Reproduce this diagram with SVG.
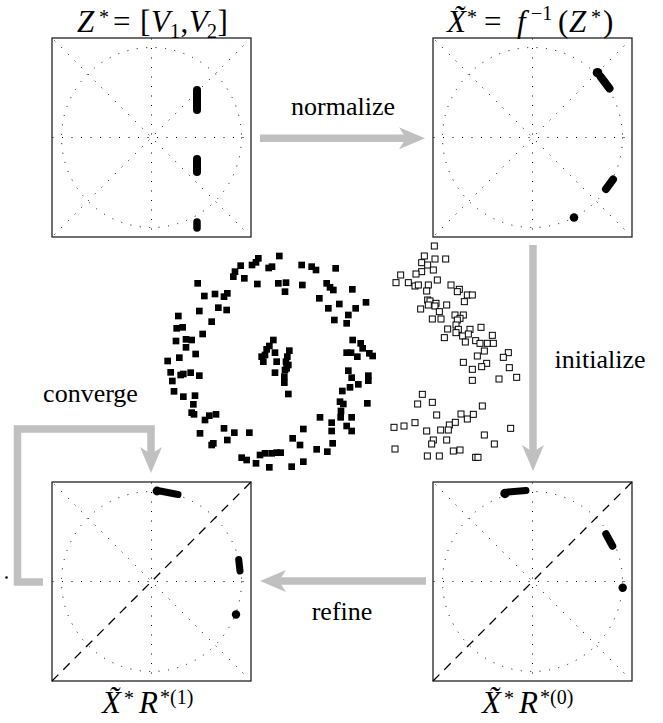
<svg xmlns="http://www.w3.org/2000/svg" width="663" height="723" viewBox="0 0 663 723">
<style>
.dot{fill:none;stroke:#000;stroke-width:1;stroke-dasharray:1 8.5;}
.box{fill:none;stroke:#222;stroke-width:1.3;}
.dash{fill:none;stroke:#000;stroke-width:1.3;stroke-dasharray:9 7;}
.blob{stroke:#000;stroke-linecap:round;fill:none;}
.arr{fill:none;stroke:#c0c0c0;stroke-width:7.5;}
.head{fill:#c0c0c0;}
text{font-family:'Liberation Serif','DejaVu Serif',serif;fill:#000;}
.lbl{font-size:26px;}
.math{font-size:31px;}
.it{font-style:italic;}
.sup{font-size:20px;}
</style>
<defs>
<g id="grid">
<circle r="90" class="dot"/>
<line x1="-99" y1="0" x2="99" y2="0" class="dot"/>
<line x1="0" y1="-99" x2="0" y2="99" class="dot"/>
<line x1="-97" y1="-97" x2="97" y2="97" class="dot"/>
<rect x="-99.5" y="-99.5" width="199" height="199" class="box"/>
</g>
<line id="anti" x1="-97" y1="97" x2="97" y2="-97" class="dot"/>
<path id="ah" d="M0,0 L-26,-11 L-19,0 L-26,11 Z" class="head"/>
<rect id="bs" x="-10" y="-10" width="20" height="20" fill="#000"/>
<rect id="hs" x="-9" y="-9" width="18" height="18" fill="#fff" stroke="#000" stroke-width="3"/>
</defs>

<g id="connectors">
<line class="arr" x1="260" y1="138.3" x2="407" y2="138.3"/>
<use href="#ah" transform="translate(425,138.3)"/>
<line class="arr" x1="533" y1="245" x2="533" y2="453"/>
<use href="#ah" transform="translate(533,471) rotate(90)"/>
<line class="arr" x1="426" y1="581" x2="278" y2="581"/>
<use href="#ah" transform="translate(260,581) rotate(180)"/>
<polyline class="arr" points="43,582 17.5,582 17.5,429 151,429 151,455"/>
<use href="#ah" transform="translate(151,473) rotate(90)"/>
<circle cx="6.5" cy="577.5" r="1.3" fill="#000"/>
</g>

<g id="labels">
<text class="lbl" x="343" y="115" text-anchor="middle">normalize</text>
<text class="lbl" x="600" y="368" text-anchor="middle">initialize</text>
<text class="lbl" x="342" y="620" text-anchor="middle">refine</text>
<text class="lbl" x="90.5" y="402" text-anchor="middle">converge</text>
</g>

<g id="panel-z">
<use href="#grid" transform="translate(151.5,137.5)"/>
<use href="#anti" transform="translate(151.5,137.5)"/>
<line class="blob" stroke-width="8" x1="197" y1="90" x2="197" y2="110"/>
<line class="blob" stroke-width="8" x1="197" y1="159" x2="197" y2="172"/>
<line class="blob" stroke-width="7.5" x1="197" y1="222" x2="197" y2="228"/>
<text class="math" y="32"><tspan class="it" x="77">Z</tspan><tspan class="sup" x="99" dy="-8">*</tspan><tspan x="113" dy="8">=</tspan><tspan x="140">[</tspan><tspan class="it" x="151">V</tspan><tspan class="sup" x="170" dy="6">1</tspan><tspan x="180.5" dy="-6">,</tspan><tspan class="it" x="189">V</tspan><tspan class="sup" x="207" dy="6">2</tspan><tspan x="217.5" dy="-6">]</tspan></text>
</g>

<g id="panel-x">
<use href="#grid" transform="translate(532.5,137.5)"/>
<use href="#anti" transform="translate(532.5,137.5)"/>
<circle cx="597.5" cy="72.7" r="4.8" fill="#000"/>
<line class="blob" stroke-width="8" x1="600.5" y1="76.5" x2="609.5" y2="88.5"/>
<line class="blob" stroke-width="8" x1="613" y1="179.5" x2="606" y2="189"/>
<circle cx="574" cy="217.5" r="4.3" fill="#000"/>
<text class="math" y="32"><tspan class="it" x="447">X̃</tspan><tspan class="sup" x="467" dy="-8">*</tspan><tspan x="484" dy="8">=</tspan><tspan class="it" x="517">f</tspan><tspan class="sup" x="531" dy="-12">−1</tspan><tspan x="558" dy="12">(</tspan><tspan class="it" x="569">Z</tspan><tspan class="sup" x="591" dy="-8">*</tspan><tspan x="603" dy="8">)</tspan></text>
</g>

<g id="panel-r1">
<use href="#grid" transform="translate(151.5,581.5)"/>
<line class="dash" x1="52" y1="681" x2="251" y2="482"/>
<circle cx="157" cy="491" r="4.4" fill="#000"/>
<line class="blob" stroke-width="7" x1="160" y1="491" x2="178" y2="494.5"/>
<line class="blob" stroke-width="7" x1="238.7" y1="559.5" x2="240" y2="571"/>
<circle cx="236" cy="614.5" r="4.2" fill="#000"/>
<text class="math" y="713"><tspan class="it" x="102">X̃</tspan><tspan class="sup" x="124" dy="-8">*</tspan><tspan class="it" x="139" dy="8">R</tspan><tspan class="sup" x="160" dy="-9">*(1)</tspan></text>
</g>

<g id="panel-r0">
<use href="#grid" transform="translate(532.5,581.5)"/>
<line class="dash" x1="433" y1="681" x2="632" y2="482"/>
<circle cx="505" cy="493.5" r="4.7" fill="#000"/>
<line class="blob" stroke-width="7" x1="508" y1="492" x2="526" y2="490.5"/>
<line class="blob" stroke-width="7.5" x1="606" y1="534" x2="612.5" y2="546"/>
<circle cx="622.7" cy="587.7" r="4.2" fill="#000"/>
<text class="math" y="713"><tspan class="it" x="482">X̃</tspan><tspan class="sup" x="504" dy="-8">*</tspan><tspan class="it" x="519" dy="8">R</tspan><tspan class="sup" x="540" dy="-9">*(0)</tspan></text>
</g>

<g id="rings" transform="translate(150,230) scale(0.33333)">
<use href="#bs" x="388" y="78"/><use href="#bs" x="325" y="85"/><use href="#bs" x="318" y="97"/><use href="#bs" x="306" y="105"/><use href="#bs" x="272" y="107"/><use href="#bs" x="255" y="125"/><use href="#bs" x="250" y="140"/><use href="#bs" x="283" y="145"/><use href="#bs" x="356" y="114"/><use href="#bs" x="366" y="110"/><use href="#bs" x="455" y="105"/><use href="#bs" x="485" y="110"/><use href="#bs" x="498" y="120"/><use href="#bs" x="557" y="115"/><use href="#bs" x="143" y="160"/><use href="#bs" x="322" y="162"/><use href="#bs" x="385" y="160"/><use href="#bs" x="408" y="158"/><use href="#bs" x="405" y="185"/><use href="#bs" x="457" y="165"/><use href="#bs" x="530" y="160"/><use href="#bs" x="540" y="172"/><use href="#bs" x="550" y="180"/><use href="#bs" x="607" y="178"/><use href="#bs" x="163" y="198"/><use href="#bs" x="195" y="192"/><use href="#bs" x="222" y="200"/><use href="#bs" x="232" y="190"/><use href="#bs" x="205" y="233"/><use href="#bs" x="230" y="240"/><use href="#bs" x="148" y="243"/><use href="#bs" x="508" y="205"/><use href="#bs" x="535" y="235"/><use href="#bs" x="568" y="222"/><use href="#bs" x="617" y="235"/><use href="#bs" x="648" y="217"/><use href="#bs" x="595" y="255"/><use href="#bs" x="553" y="270"/><use href="#bs" x="590" y="280"/><use href="#bs" x="85" y="258"/><use href="#bs" x="185" y="275"/><use href="#bs" x="80" y="295"/><use href="#bs" x="98" y="292"/><use href="#bs" x="158" y="312"/><use href="#bs" x="78" y="333"/><use href="#bs" x="108" y="328"/><use href="#bs" x="125" y="330"/><use href="#bs" x="108" y="352"/><use href="#bs" x="608" y="330"/><use href="#bs" x="632" y="340"/><use href="#bs" x="638" y="355"/><use href="#bs" x="137" y="372"/><use href="#bs" x="88" y="383"/><use href="#bs" x="53" y="393"/><use href="#bs" x="590" y="368"/><use href="#bs" x="603" y="368"/><use href="#bs" x="622" y="380"/><use href="#bs" x="658" y="370"/><use href="#bs" x="668" y="378"/><use href="#bs" x="62" y="427"/><use href="#bs" x="92" y="435"/><use href="#bs" x="100" y="432"/><use href="#bs" x="122" y="428"/><use href="#bs" x="148" y="437"/><use href="#bs" x="595" y="422"/><use href="#bs" x="605" y="443"/><use href="#bs" x="625" y="463"/><use href="#bs" x="655" y="437"/><use href="#bs" x="655" y="452"/><use href="#bs" x="67" y="453"/><use href="#bs" x="72" y="484"/><use href="#bs" x="100" y="500"/><use href="#bs" x="135" y="497"/><use href="#bs" x="130" y="523"/><use href="#bs" x="577" y="483"/><use href="#bs" x="600" y="472"/><use href="#bs" x="125" y="548"/><use href="#bs" x="132" y="553"/><use href="#bs" x="165" y="570"/><use href="#bs" x="178" y="557"/><use href="#bs" x="198" y="553"/><use href="#bs" x="570" y="515"/><use href="#bs" x="580" y="522"/><use href="#bs" x="652" y="520"/><use href="#bs" x="573" y="543"/><use href="#bs" x="572" y="562"/><use href="#bs" x="510" y="562"/><use href="#bs" x="545" y="578"/><use href="#bs" x="605" y="562"/><use href="#bs" x="590" y="588"/><use href="#bs" x="605" y="603"/><use href="#bs" x="150" y="610"/><use href="#bs" x="222" y="595"/><use href="#bs" x="253" y="608"/><use href="#bs" x="298" y="608"/><use href="#bs" x="232" y="630"/><use href="#bs" x="460" y="597"/><use href="#bs" x="545" y="603"/><use href="#bs" x="185" y="645"/><use href="#bs" x="190" y="640"/><use href="#bs" x="428" y="625"/><use href="#bs" x="450" y="645"/><use href="#bs" x="548" y="640"/><use href="#bs" x="500" y="658"/><use href="#bs" x="532" y="665"/><use href="#bs" x="275" y="683"/><use href="#bs" x="290" y="690"/><use href="#bs" x="330" y="675"/><use href="#bs" x="345" y="670"/><use href="#bs" x="365" y="670"/><use href="#bs" x="380" y="668"/><use href="#bs" x="392" y="668"/><use href="#bs" x="318" y="700"/><use href="#bs" x="358" y="712"/><use href="#bs" x="425" y="710"/><use href="#bs" x="460" y="695"/>
<use href="#bs" x="370" y="330"/><use href="#bs" x="358" y="348"/><use href="#bs" x="350" y="358"/><use href="#bs" x="335" y="380"/><use href="#bs" x="345" y="375"/><use href="#bs" x="375" y="368"/><use href="#bs" x="380" y="395"/><use href="#bs" x="340" y="395"/><use href="#bs" x="418" y="362"/><use href="#bs" x="412" y="380"/><use href="#bs" x="408" y="395"/><use href="#bs" x="415" y="405"/><use href="#bs" x="410" y="415"/><use href="#bs" x="405" y="420"/><use href="#bs" x="375" y="428"/><use href="#bs" x="403" y="440"/><use href="#bs" x="403" y="458"/><use href="#bs" x="415" y="492"/>
</g>

<g id="cloud" transform="translate(380,230) scale(0.33333)">
<use href="#hs" x="163" y="48"/><use href="#hs" x="133" y="78"/><use href="#hs" x="165" y="87"/><use href="#hs" x="197" y="87"/><use href="#hs" x="125" y="98"/><use href="#hs" x="143" y="105"/><use href="#hs" x="125" y="125"/><use href="#hs" x="160" y="120"/><use href="#hs" x="108" y="132"/><use href="#hs" x="62" y="135"/><use href="#hs" x="48" y="158"/><use href="#hs" x="85" y="158"/><use href="#hs" x="105" y="168"/><use href="#hs" x="115" y="165"/><use href="#hs" x="145" y="165"/><use href="#hs" x="172" y="150"/><use href="#hs" x="213" y="165"/><use href="#hs" x="238" y="178"/><use href="#hs" x="232" y="185"/><use href="#hs" x="140" y="183"/><use href="#hs" x="262" y="195"/><use href="#hs" x="277" y="195"/><use href="#hs" x="253" y="215"/><use href="#hs" x="143" y="210"/><use href="#hs" x="150" y="213"/><use href="#hs" x="168" y="220"/><use href="#hs" x="165" y="228"/><use href="#hs" x="145" y="225"/><use href="#hs" x="200" y="225"/><use href="#hs" x="122" y="237"/><use href="#hs" x="178" y="245"/><use href="#hs" x="225" y="255"/><use href="#hs" x="250" y="255"/><use href="#hs" x="240" y="265"/><use href="#hs" x="232" y="270"/><use href="#hs" x="157" y="267"/><use href="#hs" x="183" y="267"/><use href="#hs" x="228" y="285"/><use href="#hs" x="235" y="298"/><use href="#hs" x="203" y="297"/><use href="#hs" x="270" y="298"/><use href="#hs" x="303" y="292"/><use href="#hs" x="193" y="323"/><use href="#hs" x="228" y="308"/><use href="#hs" x="248" y="318"/><use href="#hs" x="265" y="312"/><use href="#hs" x="256" y="336"/><use href="#hs" x="287" y="332"/><use href="#hs" x="300" y="340"/><use href="#hs" x="322" y="340"/><use href="#hs" x="340" y="340"/><use href="#hs" x="337" y="316"/><use href="#hs" x="313" y="363"/><use href="#hs" x="292" y="378"/><use href="#hs" x="250" y="397"/><use href="#hs" x="320" y="400"/><use href="#hs" x="305" y="410"/><use href="#hs" x="385" y="368"/><use href="#hs" x="370" y="382"/><use href="#hs" x="277" y="418"/><use href="#hs" x="388" y="413"/><use href="#hs" x="410" y="442"/><use href="#hs" x="357" y="447"/><use href="#hs" x="277" y="451"/>
<use href="#hs" x="127" y="493"/><use href="#hs" x="113" y="522"/><use href="#hs" x="157" y="517"/><use href="#hs" x="170" y="555"/><use href="#hs" x="243" y="552"/><use href="#hs" x="262" y="567"/><use href="#hs" x="280" y="553"/><use href="#hs" x="307" y="528"/><use href="#hs" x="42" y="592"/><use href="#hs" x="72" y="588"/><use href="#hs" x="105" y="578"/><use href="#hs" x="140" y="603"/><use href="#hs" x="182" y="600"/><use href="#hs" x="208" y="585"/><use href="#hs" x="205" y="600"/><use href="#hs" x="226" y="577"/><use href="#hs" x="392" y="595"/><use href="#hs" x="313" y="615"/><use href="#hs" x="160" y="630"/><use href="#hs" x="155" y="642"/><use href="#hs" x="200" y="630"/><use href="#hs" x="343" y="642"/><use href="#hs" x="45" y="657"/><use href="#hs" x="142" y="678"/><use href="#hs" x="178" y="678"/><use href="#hs" x="220" y="663"/><use href="#hs" x="240" y="660"/><use href="#hs" x="287" y="682"/><use href="#hs" x="294" y="682"/>
</g>
</svg>
